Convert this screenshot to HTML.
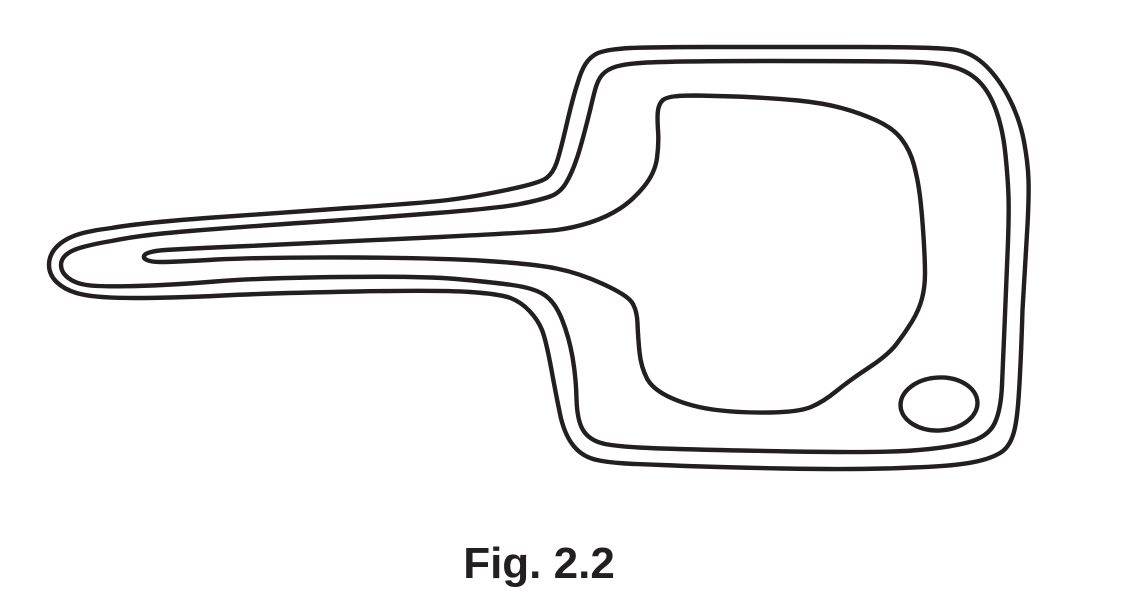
<!DOCTYPE html>
<html>
<head>
<meta charset="utf-8">
<style>
html,body{margin:0;padding:0;background:#fff;width:1121px;height:611px;overflow:hidden}
svg{display:block;position:absolute;left:0;top:0}
</style>
</head>
<body>
<svg width="1121" height="611" viewBox="0 0 1121 611" xmlns="http://www.w3.org/2000/svg">
<g fill="none" stroke="#231f20" stroke-width="4.4" stroke-linejoin="round">
<!-- outer -->
<path d="M630 48 Q660 47 706.5 47 Q780 47 860 47 Q940 47 956.5 50 Q973 53 986.5 66.5 Q1000 80 1010 100 Q1020 120 1024 141.5 Q1028 163 1028.5 180 Q1029 197 1027.5 225 Q1025 265 1022.5 310 Q1021 360 1019 391.5 C1017 425 1014 445 1000 453 C985 462 960 466 912.5 467.5 Q861 470 783.5 468.5 Q706 467 661.5 465 C630 464 610 463 597 460 C578 456 567 442 561 418.5 Q557 400 551.5 370 Q546 340 542 330 Q538 320 529.5 311 Q521 302 510.5 298 Q500 294 470 292 Q440 290 356.5 291.5 Q273 293 223 295.5 Q173 298 133 298 Q93 298 76.5 293 C60 288 49 278 49 265 C49 250 62 238 85 232.5 Q98 229.5 111.5 228 Q140 223 206.5 218 Q273 213 348 208 Q423 203 448 200 Q473 197 506.5 190 Q540 183 546.5 178 Q553 173 556.5 163 Q560 153 566.5 125 Q573 97 577.5 83.5 C582 68 587 58 598 53 C606 50 616 49 630 48 Z"/>
<!-- middle -->
<path d="M640 63 Q665 61 773.5 61 Q890 61 915 62 Q940 63 955 67.5 Q970 72 980 82.5 Q990 93 996.5 111.5 Q1003 130 1005.5 155 Q1008 180 1008.5 196.5 Q1009 213 1008 241.5 Q1007 270 1005 315 Q1003 360 1002 385 Q1001 410 994.5 423.5 Q988 437 967.5 442.5 Q947 448 912.5 450.5 Q878 453 792 451.5 Q706 450 661.5 448.5 Q617 447 603 443.5 Q589 440 583 430 Q577 420 576.5 398.5 Q576 377 572.5 357 Q569 337 562 319.5 Q555 302 544.5 295 Q534 288 512 285 Q490 282 456.5 279 Q423 276 340 277 Q257 278 215 281.5 Q173 285 136.5 286 Q100 287 86.5 285 C72 283 61 275 61 265 C61 257 68 251 83 247 Q96 243.5 111.5 241 Q140 235 190 231 Q240 227 306.5 222.5 Q373 218 436.5 213 Q500 208 520 204 Q540 200 550 196.5 Q560 193 566 183 Q572 173 577 158 Q582 143 590 110.5 C594 94 596 82 602 75 C609 67 620 64.5 640 63 Z"/>
<!-- inner -->
<path d="M697 95.5 Q716 96 735 96.5 Q773 98 798 100.5 Q823 103 841.5 108 Q860 113 876.5 120.5 Q893 128 901.5 139 Q910 150 914 165 Q918 180 920 196.5 Q922 213 923.5 236.5 Q925 260 925 273.5 Q925 287 922 298.5 Q919 310 912 321.5 Q905 333 896.5 344 Q888 355 869 367.5 Q850 380 836.5 391 Q823 402 811 407 Q799 412 770 412.5 Q741 413 716.5 410 Q692 407 672.5 398.5 Q653 390 647 378.5 Q641 367 639.5 352 Q638 337 637.5 323.5 Q637 310 632 302.5 Q627 295 603 284 Q579 273 556.5 268.5 Q534 264 487 261 Q440 258 356.5 257.5 Q273 257 216.5 259.5 Q175 262 160 262 C148 262 143 259 144 256 C145 253 152 251 165 250 Q200 248 248.5 246 Q340 242 440 237 Q540 232 556.5 230 Q573 228 590 222.5 Q607 217 620 208.5 Q633 200 644 186.5 Q655 173 657 158 Q659 143 658 130 C657 115 657 105 663 100 C668 96 680 95.5 697 95.5 Z"/>
<!-- small oval -->
<ellipse cx="939" cy="404" rx="38.5" ry="26.5" transform="rotate(-3 939 404)"/>
</g>
<text x="539" y="578" text-anchor="middle" font-family="'Liberation Sans',sans-serif" font-weight="700" font-size="44" fill="#231f20">Fig. 2.2</text>
</svg>
</body>
</html>
